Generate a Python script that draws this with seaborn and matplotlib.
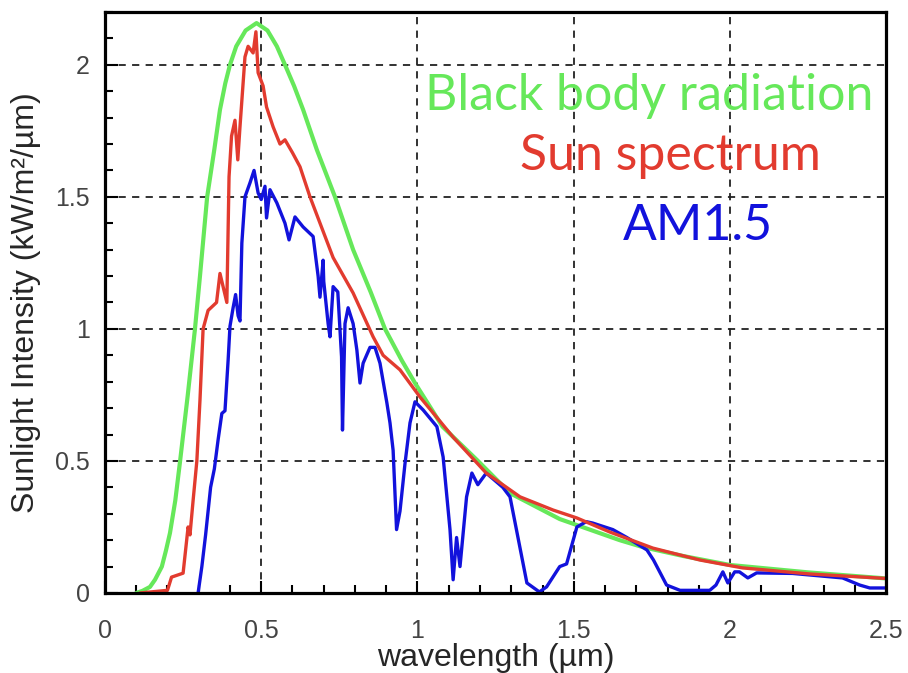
import numpy as np
import pandas as pd
import matplotlib
matplotlib.use("Agg")
import matplotlib.pyplot as plt
from matplotlib.ticker import MultipleLocator
import seaborn as sns

# values (wavelength in um, intensity in kW/m2/um)
bb_x = [0.10, 0.12, 0.144, 0.16, 0.182, 0.195, 0.208, 0.225, 0.24, 0.265, 0.288, 0.304, 0.327,
        0.35, 0.368, 0.385, 0.40, 0.42, 0.45, 0.485, 0.52, 0.55, 0.576, 0.605, 0.634, 0.678,
        0.736, 0.794, 0.85, 0.896, 0.95, 0.992, 1.08, 1.19, 1.296, 1.455, 1.647, 1.72, 1.85,
        2.0, 2.25, 2.5]
bb_y = [0.0, 0.008, 0.023, 0.05, 0.10, 0.16, 0.227, 0.35, 0.496, 0.75, 1.0, 1.2, 1.5,
        1.68, 1.83, 1.93, 2.0, 2.07, 2.13, 2.158, 2.13, 2.07, 2.0, 1.92, 1.83, 1.678,
        1.5, 1.30, 1.14, 1.0, 0.88, 0.795, 0.63, 0.504, 0.378, 0.28, 0.2, 0.174, 0.14,
        0.106, 0.078, 0.055]

sun_x = [0.112, 0.2, 0.213, 0.25, 0.266, 0.272, 0.282, 0.294, 0.304, 0.314, 0.33, 0.357, 0.368,
         0.378, 0.39, 0.397, 0.405, 0.416, 0.425, 0.432, 0.448, 0.458, 0.474, 0.483, 0.49,
         0.506, 0.517, 0.538, 0.56, 0.576, 0.60, 0.624, 0.656, 0.73, 0.794, 0.858, 0.89,
         0.944, 1.008, 1.114, 1.22, 1.328, 1.434, 1.51, 1.615, 1.753, 1.903, 2.04, 2.255, 2.5]
sun_y = [0.0, 0.01, 0.06, 0.075, 0.25, 0.22, 0.35, 0.50, 0.73, 1.0, 1.07, 1.10, 1.21,
         1.16, 1.10, 1.576, 1.73, 1.79, 1.64, 1.765, 2.03, 2.07, 2.045, 2.125, 1.97,
         1.92, 1.84, 1.765, 1.70, 1.716, 1.667, 1.614, 1.5, 1.27, 1.136, 0.97, 0.90,
         0.845, 0.742, 0.59, 0.454, 0.364, 0.314, 0.284, 0.231, 0.17, 0.125, 0.095, 0.072, 0.055]

am_x = [0.298, 0.31, 0.322, 0.33, 0.338, 0.35, 0.362, 0.374, 0.384, 0.394, 0.40, 0.41, 0.418,
        0.426, 0.432, 0.438, 0.448, 0.464, 0.477, 0.49, 0.50, 0.512, 0.517, 0.528, 0.55,
        0.576, 0.589, 0.608, 0.634, 0.666, 0.682, 0.688, 0.698, 0.70, 0.714, 0.72, 0.73,
        0.745, 0.757, 0.76, 0.768, 0.778, 0.794, 0.806, 0.816, 0.826, 0.848, 0.864, 0.88,
        0.902, 0.912, 0.922, 0.933, 0.944, 0.96, 0.976, 0.992, 1.018, 1.062, 1.082, 1.104,
        1.114, 1.125, 1.136, 1.157, 1.174, 1.193, 1.22, 1.273, 1.296, 1.35, 1.39, 1.413,
        1.455, 1.477, 1.51, 1.54, 1.56, 1.625, 1.67, 1.734, 1.755, 1.797, 1.84, 1.935,
        1.955, 1.977, 1.993, 2.015, 2.03, 2.057, 2.085, 2.2, 2.36, 2.415, 2.447, 2.5]
am_y = [0.0, 0.1, 0.22, 0.31, 0.40, 0.47, 0.58, 0.68, 0.69, 0.88, 1.01, 1.08, 1.13,
        1.05, 1.03, 1.325, 1.5, 1.553, 1.6, 1.515, 1.49, 1.54, 1.42, 1.527, 1.477,
        1.40, 1.337, 1.424, 1.386, 1.35, 1.20, 1.12, 1.26, 1.18, 1.02, 0.97, 1.16,
        1.14, 0.894, 0.617, 1.02, 1.08, 1.02, 0.92, 0.795, 0.87, 0.93, 0.93, 0.87,
        0.72, 0.644, 0.54, 0.24, 0.31, 0.49, 0.644, 0.724, 0.693, 0.63, 0.515, 0.24,
        0.05, 0.21, 0.1, 0.364, 0.454, 0.41, 0.454, 0.40, 0.364, 0.038, 0.004, 0.023,
        0.1, 0.11, 0.25, 0.27, 0.265, 0.24, 0.21, 0.163, 0.125, 0.03, 0.01, 0.01,
        0.03, 0.08, 0.038, 0.08, 0.08, 0.057, 0.076, 0.074, 0.057, 0.03, 0.019, 0.019]

labels = ["Black body radiation", "Sun spectrum", "AM1.5"]
colors = ["#66e85a", "#e23b2f", "#1212dc"]
xticks = [0, 0.5, 1, 1.5, 2, 2.5]
xtick_labels = ["0", "0.5", "1", "1.5", "2", "2.5"]
yticks = [0, 0.5, 1, 1.5, 2]
ytick_labels = ["0", "0.5", "1", "1.5", "2"]

sns.set_style("ticks")
plt.rcParams["font.family"] = ["Liberation Sans", "DejaVu Sans"]

fig = plt.figure(figsize=(9.08, 6.73), dpi=100)
ax = fig.add_axes([0.1156, 0.1189, 0.8605, 0.8633])

sns.lineplot(x=bb_x, y=bb_y, sort=False, color=colors[0], lw=3.0, ax=ax)
sns.lineplot(x=am_x, y=am_y, sort=False, color=colors[2], lw=2.4, ax=ax)
sns.lineplot(x=sun_x, y=sun_y, sort=False, color=colors[1], lw=2.4, ax=ax)

ax.set_xlim(0, 2.5)
ax.set_ylim(0, 2.2)
ax.set_xticks(xticks, xtick_labels)
ax.set_yticks(yticks, ytick_labels)
ax.xaxis.set_minor_locator(MultipleLocator(0.1))
ax.yaxis.set_minor_locator(MultipleLocator(0.1))
ax.grid(True, which="major", color="#222222", linestyle=(0, (4, 3.5)), linewidth=1.3)
ax.set_axisbelow(True)

ax.tick_params(which="both", direction="in", top=False, right=False, width=1.5,
               colors="black", labelcolor="#444444", labelsize=18)
ax.tick_params(which="major", length=9)
ax.tick_params(which="minor", length=6)
ax.tick_params(axis="x", pad=19)
ax.tick_params(axis="y", pad=11)
for s in ax.spines.values():
    s.set_linewidth(2.3)
    s.set_color("black")

ax.set_xlabel("wavelength (µm)", fontsize=23, labelpad=0)
ax.set_ylabel("Sunlight Intensity (kW/m²/µm)", fontsize=23, labelpad=10)

# annotations in the plot area
ax.text(1.024, 1.83, labels[0], color=colors[0], fontsize=36, family=["Lato", "DejaVu Sans"])
ax.text(1.328, 1.60, labels[1], color=colors[1], fontsize=36, family=["Lato", "DejaVu Sans"])
ax.text(1.657, 1.337, labels[2], color=colors[2], fontsize=36, family=["Lato", "DejaVu Sans"])

fig.savefig("out.png", dpi=100)
